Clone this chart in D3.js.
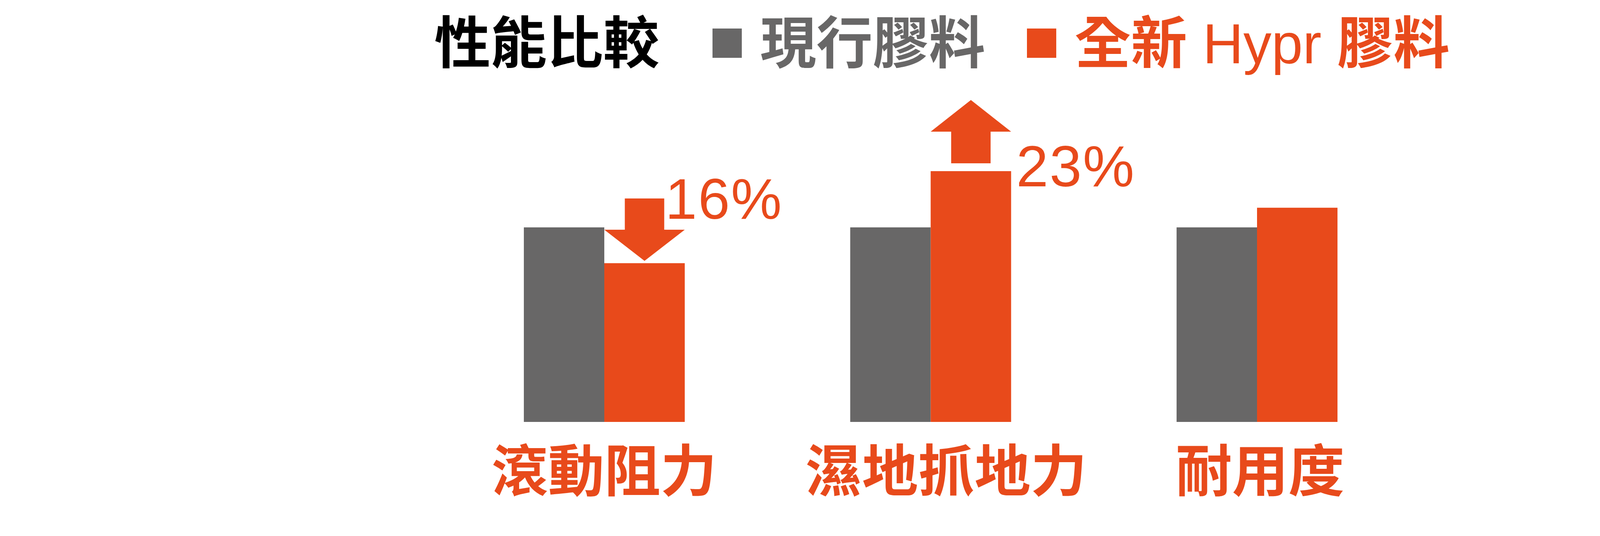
<!DOCTYPE html>
<html>
<head>
<meta charset="utf-8">
<script src="https://cdn.jsdelivr.net/npm/d3@7"></script>
<style>
  body { margin: 0; background: #fff; }
</style>
</head>
<body>
<div id="chart"></div>
<script>
const categories = ["滾動阻力", "濕地抓地力", "耐用度"];
const seriesNames = ["現行膠料", "全新 Hypr 膠料"];
const currentValues = [100, 100, 100];
const hyprValues = [81.6, 128.9, 110.1];
const changeLabels = ["16%", "23%", ""];

const W = 4759, H = 1372;
const GRAY = "#686767", ORANGE = "#e84a1b";
const CJK = "'Liberation Sans', 'Noto Sans CJK TC', sans-serif";
const colors = [GRAY, ORANGE];
const baseY = 1080;

const svg = d3.select("#chart")
  .append("svg")
  .attr("width", W)
  .attr("height", H);

svg.append("rect").attr("width", W).attr("height", H).attr("fill", "#fff");

const x0 = d3.scaleBand()
  .domain(categories)
  .range([1129.25, 3635.75])
  .paddingInner(0.507)
  .paddingOuter(0.2535);

const x1 = d3.scaleBand()
  .domain(seriesNames)
  .range([0, x0.bandwidth()]);

const y = d3.scaleLinear()
  .domain([0, 100])
  .range([baseY, baseY - 498]);

const rows = categories.map((c, i) => ({
  cat: c,
  vals: [currentValues[i], hyprValues[i]],
  label: changeLabels[i]
}));

// bars
const groups = svg.selectAll("g.grp")
  .data(rows)
  .join("g")
  .attr("class", "grp")
  .attr("transform", d => `translate(${x0(d.cat)},0)`);

groups.selectAll("rect")
  .data(d => d.vals.map((v, j) => ({ name: seriesNames[j], v, j })))
  .join("rect")
  .attr("x", d => x1(d.name))
  .attr("y", d => y(d.v))
  .attr("width", x1.bandwidth())
  .attr("height", d => y(0) - y(d.v))
  .attr("fill", d => colors[d.j]);

// category labels
const labelDx = [0, 40, 8];
svg.selectAll("text.cat")
  .data(rows)
  .join("text")
  .attr("class", "cat")
  .attr("x", (d, i) => x0(d.cat) + x0.bandwidth() / 2 + labelDx[i])
  .attr("y", 1258)
  .attr("text-anchor", "middle")
  .attr("font-family", CJK)
  .attr("font-weight", 700)
  .attr("font-size", 144)
  .attr("fill", ORANGE)
  .text(d => d.cat);

// change arrows + percentages
const bw = x1.bandwidth();
rows.filter(d => d.label).forEach(d => {
  const left = x0(d.cat) + x1(seriesNames[1]);
  const cx = left + bw / 2;
  const sw = bw * 0.49;
  const up = d.vals[1] > d.vals[0];
  let pts;
  if (up) {
    const shaftBottom = y(d.vals[1]) - 20;
    const headBase = shaftBottom - 81;
    const tip = headBase - 81;
    pts = [[cx - sw / 2, shaftBottom], [cx + sw / 2, shaftBottom], [cx + sw / 2, headBase],
      [cx + bw / 2, headBase], [cx, tip], [cx - bw / 2, headBase], [cx - sw / 2, headBase]];
    svg.append("text")
      .attr("x", left + bw + 13)
      .attr("y", y(d.vals[1]) + 39)
      .attr("font-family", "'Liberation Sans', Arial, sans-serif")
      .attr("font-size", 148)
      .attr("letter-spacing", 3)
      .attr("fill", ORANGE)
      .text(d.label);
  } else {
    const tip = y(d.vals[1]) - 6;
    const headBase = y(d.vals[0]) + 6;
    const shaftTop = headBase - 80;
    pts = [[cx - sw / 2, shaftTop], [cx + sw / 2, shaftTop], [cx + sw / 2, headBase],
      [cx + bw / 2, headBase], [cx, tip], [cx - bw / 2, headBase], [cx - sw / 2, headBase]];
    svg.append("text")
      .attr("x", left + bw - 50)
      .attr("y", shaftTop + 52)
      .attr("font-family", "'Liberation Sans', Arial, sans-serif")
      .attr("font-size", 146)
      .attr("letter-spacing", 3)
      .attr("fill", ORANGE)
      .text(d.label);
  }
  svg.append("path")
    .attr("d", d3.line()(pts) + "Z")
    .attr("fill", ORANGE);
});

// title + legend
svg.append("text")
  .attr("x", 1112)
  .attr("y", 162)
  .attr("font-family", CJK)
  .attr("font-weight", 700)
  .attr("font-size", 144)
  .attr("fill", "#000")
  .text("性能比較");

const legendX = [1824, 2629];
const legend = svg.selectAll("g.leg")
  .data(seriesNames)
  .join("g")
  .attr("class", "leg")
  .attr("transform", (d, i) => `translate(${legendX[i]},0)`);

legend.append("rect")
  .attr("x", 0)
  .attr("y", 73)
  .attr("width", 75)
  .attr("height", 75)
  .attr("fill", (d, i) => colors[i]);

legend.append("text")
  .attr("x", 122)
  .attr("y", 162)
  .attr("font-family", CJK)
  .attr("font-weight", 700)
  .attr("font-size", 144)
  .attr("fill", (d, i) => colors[i])
  .selectAll("tspan")
  .data(d => d.split(/([A-Za-z]+)/).filter(s => s.length))
  .join("tspan")
  .attr("font-weight", s => /[A-Za-z]/.test(s) ? 400 : 700)
  .text(s => s);
</script>
</body>
</html>
